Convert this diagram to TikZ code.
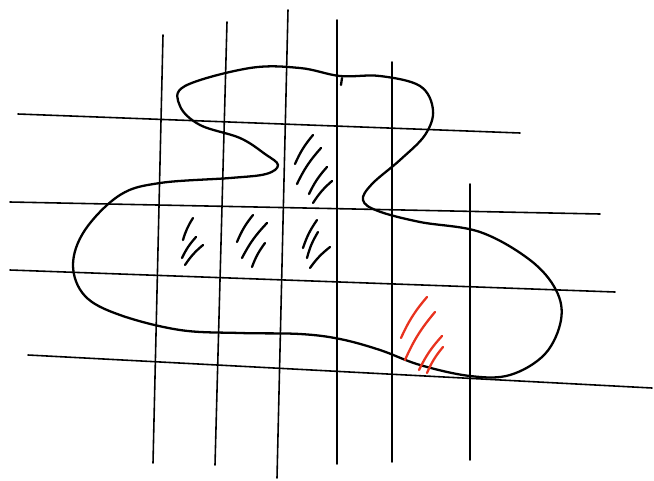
\documentclass[tikz,border=0pt]{standalone}
\usetikzlibrary{calc}
\definecolor{ink}{HTML}{000000}
\definecolor{redmark}{HTML}{E8321E}

\begin{document}
\begin{tikzpicture}[
  x=0.02cm, y=-0.02cm,
  gridline/.style={draw=ink, line width=.9pt, line cap=round},
  outline/.style={draw=ink, line width=1.3pt, line cap=round, line join=round},
  hatch/.style={draw=ink, line width=1.3pt, line cap=round},
  redhatch/.style={hatch, draw=redmark}
]
\useasboundingbox (0,0) rectangle (654,481);

% Rejilla dibujada a mano.
\foreach \xa/\ya/\xb/\yb in {163/35/153/463, 227/22/215/465, 288/10/277/478,
                             337/20/337/464, 392/62/392/462, 470/184/470/460}
  \draw[gridline] (\xa,\ya) -- (\xb,\yb);
\foreach \xa/\ya/\xb/\yb in {18/114/520/133, 10/202/600/214,
                             10/270/615/292, 28/355/652/388}
  \draw[gridline] (\xa,\ya) -- (\xb,\yb);

% Contorno de la región.
\draw[outline] plot[smooth cycle, tension=.6] coordinates {
  (185,86) (250,68) (300,68) (340,76) (380,76) (420,86) (433,110)
  (425,135) (400,160) (372,184) (363,200) (378,211) (420,222)
  (480,232) (530,260) (556,290) (561,320) (545,354) (510,375)
  (470,376) (420,365) (380,350) (340,339) (300,334) (240,333)
  (180,330) (120,315) (85,296) (73,265) (85,230) (120,195)
  (160,183) (230,178) (266,174) (278,165) (265,154) (240,138)
  (200,125) (180,106)};
\draw[outline] (342,78) -- (341,85);

% Celdas marcadas.
\foreach \xa/\ya/\xb/\yb in {295/164/313/135, 297/184/321/148, 309/194/327/167,
                             313/203/332/181,
                             183/240/193/218, 182/258/196/237, 185/265/203/245,
                             237/242/253/215, 242/258/267/223, 252/267/265/243,
                             303/248/317/220, 307/258/318/232, 310/268/330/247}
  \draw[hatch] (\xa,\ya) to[bend left=8] (\xb,\yb);

% Celda en rojo.
\foreach \xa/\ya/\xb/\yb in {401/338/427/297, 405/360/435/312,
                             419/370/442/336, 427/373/443/347}
  \draw[redhatch] (\xa,\ya) to[bend left=8] (\xb,\yb);

\end{tikzpicture}
\end{document}
